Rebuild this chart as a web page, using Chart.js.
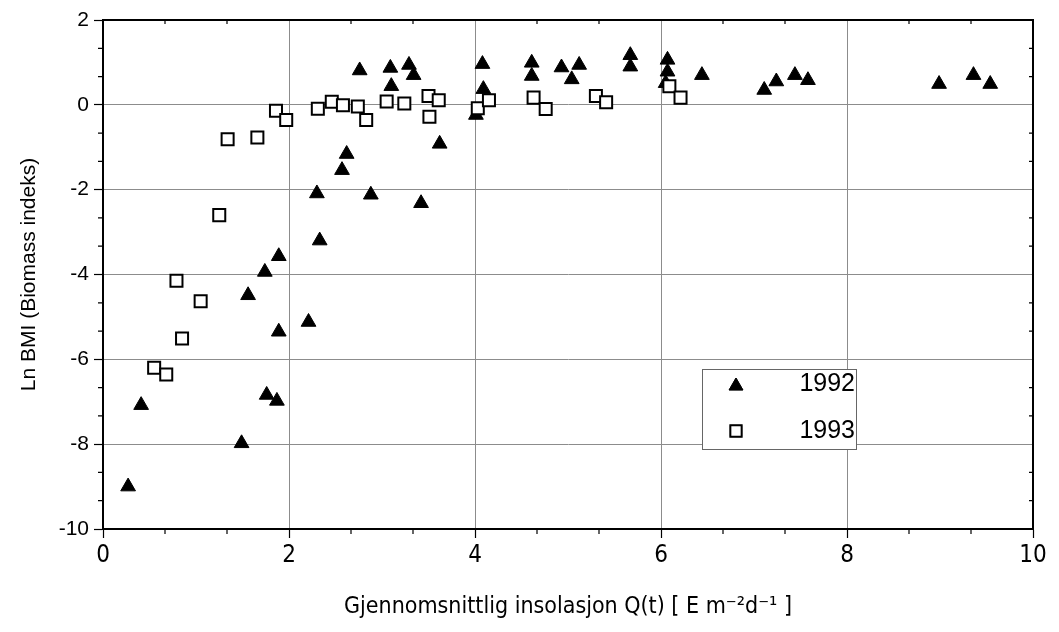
<!DOCTYPE html>
<html>
<head>
<meta charset="utf-8">
<script src="https://cdn.jsdelivr.net/npm/chart.js@4/dist/chart.umd.min.js"></script>
<style>
  html, body { margin: 0; padding: 0; background: #fff; }
  #wrap { width: 1059px; height: 632px; }
</style>
</head>
<body>
<div id="wrap"><canvas id="c" width="1059" height="632"></canvas></div>
<script>
// 1992 (fylte trekanter)
var x1992 = [0.27, 0.41, 1.49, 1.56, 1.74, 1.76, 1.87, 1.89, 1.89, 2.21, 2.30, 2.33, 2.57, 2.62, 2.76, 2.88,
  3.09, 3.10, 3.29, 3.34, 3.42, 3.62, 4.01, 4.08, 4.09, 4.61, 4.61, 4.93, 5.04, 5.12, 5.67, 5.67,
  6.07, 6.07, 6.05, 6.44, 7.11, 7.24, 7.44, 7.58, 8.99, 9.36, 9.54];
var y1992 = [-9.0, -7.08, -7.98, -4.49, -3.94, -6.84, -6.98, -3.57, -5.35, -5.12, -2.09, -3.2, -1.54, -1.16, 0.81, -2.12,
  0.87, 0.44, 0.94, 0.70, -2.32, -0.92, -0.24, 0.96, 0.37, 0.99, 0.68, 0.88, 0.60, 0.94, 1.17, 0.90,
  1.06, 0.78, 0.51, 0.70, 0.35, 0.55, 0.70, 0.58, 0.49, 0.70, 0.49];

// 1993 (åpne kvadrater)
var x1993 = [0.55, 0.68, 0.79, 0.85, 1.05, 1.25, 1.34, 1.66, 1.86, 1.97, 2.31, 2.46, 2.58, 2.74, 2.83,
  3.05, 3.24, 3.50, 3.51, 3.61, 4.03, 4.15, 4.63, 4.76, 5.30, 5.41, 6.09, 6.21];
var y1993 = [-6.2, -6.36, -4.15, -5.51, -4.63, -2.6, -0.81, -0.77, -0.14, -0.36, -0.09, 0.07, -0.01, -0.04, -0.36,
  0.08, 0.03, 0.21, -0.28, 0.11, -0.08, 0.11, 0.17, -0.10, 0.21, 0.06, 0.44, 0.17];

var xTicks = [0, 2, 4, 6, 8, 10];
var yTicks = [-10, -8, -6, -4, -2, 0, 2];
var xTitle = "Gjennomsnittlig insolasjon Q(t) [ E m\u207B\u00B2d\u207B\u00B9 ]";
var yTitle = "Ln BMI (Biomass indeks)";

function toPoints(xs, ys) {
  var pts = [];
  for (var i = 0; i < xs.length; i++) pts.push({ x: xs[i], y: ys[i] });
  return pts;
}

var narrow = "'Liberation Sans Narrow', 'DejaVu Sans Condensed', 'Liberation Sans', sans-serif";
var arial = "'Liberation Sans', Arial, sans-serif";

// ramme, små tikker og forklaring
var extras = {
  id: 'extras',
  afterDraw: function (chart) {
    var ctx = chart.ctx, a = chart.chartArea;
    var sx = chart.scales.x, sy = chart.scales.y;
    ctx.save();
    ctx.strokeStyle = '#000';
    // minor ticks hver 2/3 enhet
    ctx.lineWidth = 1.2;
    ctx.beginPath();
    for (var k = 1; k < 15; k++) {
      if (k % 3 === 0) continue;
      var v = k * 2 / 3;
      var px = sx.getPixelForValue(v);
      ctx.moveTo(px, a.bottom); ctx.lineTo(px, a.bottom + 5);
      ctx.moveTo(px, a.top); ctx.lineTo(px, a.top + 4);
    }
    for (var j = 1; j < 18; j++) {
      if (j % 3 === 0) continue;
      var py = sy.getPixelForValue(-10 + j * 2 / 3);
      ctx.moveTo(a.left, py); ctx.lineTo(a.left - 5, py);
      ctx.moveTo(a.right, py); ctx.lineTo(a.right - 4, py);
    }
    ctx.stroke();
    // ramme
    ctx.lineWidth = 2;
    ctx.strokeRect(a.left, a.top, a.right - a.left, a.bottom - a.top);

    // forklaring
    var bx = 702, by = 369, bw = 154, bh = 80;
    ctx.fillStyle = '#fff';
    ctx.fillRect(bx, by, bw, bh);
    ctx.strokeStyle = '#666';
    ctx.lineWidth = 1;
    ctx.strokeRect(bx + 0.5, by + 0.5, bw, bh);
    var ds = chart.data.datasets;
    for (var n = 0; n < ds.length; n++) {
      var d = ds[n];
      var cy = by + 15 + n * 47;
      Chart.helpers.drawPoint(ctx, {
        pointStyle: d.pointStyle,
        radius: d.pointStyle === 'triangle' ? 8 : 8,
        borderWidth: d.borderWidth
      }, bx + 34, cy + (d.pointStyle === 'triangle' ? 2 : 0));
      ctx.fillStyle = d.backgroundColor;
      ctx.strokeStyle = d.borderColor;
      ctx.lineWidth = d.borderWidth;
      ctx.fill();
      ctx.stroke();
      ctx.fillStyle = '#000';
      ctx.font = "25px " + arial;
      ctx.textAlign = 'right';
      ctx.textBaseline = 'middle';
      ctx.fillText(d.label, bx + bw - 1, cy);
    }
    ctx.restore();
  }
};

new Chart(document.getElementById('c'), {
  type: 'scatter',
  data: {
    datasets: [
      {
        label: '1992',
        data: toPoints(x1992, y1992),
        pointStyle: 'triangle',
        pointRadius: 8.5,
        pointHoverRadius: 8.5,
        backgroundColor: '#000',
        borderColor: '#000',
        borderWidth: 1,
        order: 2
      },
      {
        label: '1993',
        data: toPoints(x1993, y1993),
        pointStyle: 'rect',
        pointRadius: 8.5,
        pointHoverRadius: 8.5,
        backgroundColor: '#fff',
        borderColor: '#000',
        borderWidth: 2,
        order: 1
      }
    ]
  },
  options: {
    responsive: false,
    animation: false,
    events: [],
    layout: { padding: { top: 20, right: 26, left: 0, bottom: 0 } },
    plugins: {
      legend: { display: false },
      tooltip: { enabled: false }
    },
    scales: {
      x: {
        type: 'linear',
        min: 0, max: 10,
        afterBuildTicks: function (s) { s.ticks = xTicks.map(function (v) { return { value: v }; }); },
        afterFit: function (s) { s.height = 103; },
        ticks: { color: '#000', font: { family: narrow, size: 24 }, padding: 3 },
        grid: { color: '#8c8c8c', lineWidth: 1, tickColor: '#000', tickLength: 9, tickWidth: 1.2 },
        border: { display: true, color: '#000', width: 2 },
        title: { display: true, text: xTitle, color: '#000', font: { family: narrow, size: 23 }, padding: { top: 0, bottom: 11 } }
      },
      y: {
        type: 'linear',
        min: -10, max: 2,
        afterBuildTicks: function (s) { s.ticks = yTicks.map(function (v) { return { value: v }; }); },
        afterFit: function (s) { s.width = 103; },
        ticks: { color: '#000', font: { family: arial, size: 21 }, padding: 5 },
        grid: { color: '#8c8c8c', lineWidth: 1, tickColor: '#000', tickLength: 9, tickWidth: 1.2 },
        border: { display: true, color: '#000', width: 2 },
        title: { display: true, text: yTitle, color: '#000', font: { family: arial, size: 21 }, padding: { top: 17, bottom: 0 } }
      }
    }
  },
  plugins: [extras]
});
</script>
</body>
</html>
